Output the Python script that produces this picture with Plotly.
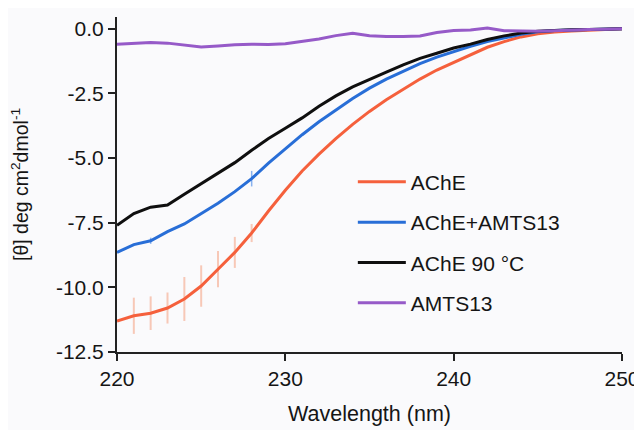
import plotly.graph_objects as go

wavelength = list(range(220, 251))

ache = [-11.3, -11.1, -11.0, -10.8, -10.45, -9.95, -9.3, -8.65, -7.9, -7.05,
        -6.25, -5.5, -4.85, -4.25, -3.7, -3.2, -2.75, -2.35, -1.95, -1.6,
        -1.3, -1.0, -0.72, -0.5, -0.32, -0.2, -0.13, -0.09, -0.06, -0.03, 0.0]
ache_err = [0, 0.7, 0.65, 0.6, 0.85, 0.8, 0.7, 0.6, 0.35, 0,
            0, 0, 0, 0, 0, 0, 0, 0, 0, 0,
            0, 0, 0, 0, 0, 0, 0, 0, 0, 0, 0]

ache_amts = [-8.65, -8.35, -8.2, -7.85, -7.55, -7.15, -6.75, -6.3, -5.8, -5.2,
             -4.65, -4.1, -3.6, -3.15, -2.7, -2.3, -1.95, -1.65, -1.35, -1.1,
             -0.88, -0.68, -0.5, -0.35, -0.22, -0.12, -0.07, -0.05, -0.03, -0.02, 0.0]
ache_amts_err = [0, 0, 0.12, 0, 0, 0, 0, 0, 0.3, 0,
                 0, 0, 0, 0, 0, 0, 0, 0, 0, 0,
                 0, 0, 0, 0, 0, 0, 0, 0, 0, 0, 0]

ache_90 = [-7.6, -7.15, -6.9, -6.82, -6.4, -6.0, -5.6, -5.18, -4.7, -4.25,
           -3.85, -3.45, -3.0, -2.6, -2.25, -1.95, -1.68, -1.4, -1.15, -0.95,
           -0.75, -0.6, -0.42, -0.28, -0.17, -0.1, -0.06, -0.04, -0.03, -0.02, 0.0]

amts13 = [-0.6, -0.58, -0.54, -0.56, -0.63, -0.71, -0.67, -0.62, -0.6, -0.61,
          -0.58, -0.5, -0.4, -0.27, -0.18, -0.27, -0.3, -0.3, -0.28, -0.15,
          -0.07, -0.05, 0.02, -0.08, -0.1, -0.1, -0.08, -0.05, -0.03, -0.02, 0.0]

y_ticks = [0.0, -2.5, -5.0, -7.5, -10.0, -12.5]
y_tick_labels = ["0.0", "-2.5", "-5.0", "-7.5", "-10.0", "-12.5"]
x_ticks = [220, 230, 240, 250]
x_tick_labels = ["220", "230", "240", "250"]

RED = "rgb(245,96,60)"
BLUE = "rgb(40,110,215)"
BLACK = "rgb(15,15,15)"
PURPLE = "rgb(150,90,200)"

fig = go.Figure()
fig.add_trace(go.Scatter(
    x=wavelength, y=ache, mode="lines", name="AChE", legendgroup="a",
    line=dict(color=RED, width=3),
    error_y=dict(type="data", array=ache_err, visible=True, width=0,
                 thickness=2, color="rgba(245,140,100,0.45)")))
fig.add_trace(go.Scatter(
    x=wavelength, y=ache_amts, mode="lines", name="AChE+AMTS13", legendgroup="b",
    line=dict(color=BLUE, width=3),
    error_y=dict(type="data", array=ache_amts_err, visible=True, width=0,
                 thickness=1.5, color="rgba(60,130,230,0.6)")))
fig.add_trace(go.Scatter(
    x=wavelength, y=ache_90, mode="lines", name="AChE 90 °C", legendgroup="c",
    line=dict(color=BLACK, width=3)))
fig.add_trace(go.Scatter(
    x=wavelength, y=amts13, mode="lines", name="AMTS13", legendgroup="d",
    line=dict(color=PURPLE, width=3)))

FONT = "Liberation Sans, Arial, sans-serif"
fig.update_layout(
    width=634, height=422,
    margin=dict(l=109, r=20, t=9, b=78),
    paper_bgcolor="#fafafc", plot_bgcolor="#fafafc",
    font=dict(family=FONT, size=21, color="#151515"),
    showlegend=True,
    legend=dict(x=0.467, y=0.568, xanchor="left", yanchor="top",
                bgcolor="rgba(0,0,0,0)", font=dict(size=21, color="#151515"),
                tracegroupgap=10, itemwidth=48),
    xaxis=dict(range=[220, 250], tickvals=x_ticks, ticktext=x_tick_labels,
               ticks="outside", ticklen=7, automargin=False,
               tickwidth=2, tickcolor="#222", showline=True, linecolor="#222",
               linewidth=2, showgrid=False, zeroline=False,
               title=dict(text="Wavelength (nm)", font=dict(size=21.5), standoff=17),
               tickfont=dict(size=21)),
    yaxis=dict(range=[-12.5, 0.45], tickvals=y_ticks, ticktext=y_tick_labels,
               ticks="outside", ticklen=7, tickwidth=2, tickcolor="#222",
               showline=True, linecolor="#222", linewidth=2, showgrid=False,
               zeroline=False, automargin=False,
               title=dict(text="[θ] deg cm<sup>2</sup>dmol<sup>-1</sup>",
                          font=dict(size=19.5), standoff=28),
               tickfont=dict(size=21)),
)

fig.write_html("out.html")
